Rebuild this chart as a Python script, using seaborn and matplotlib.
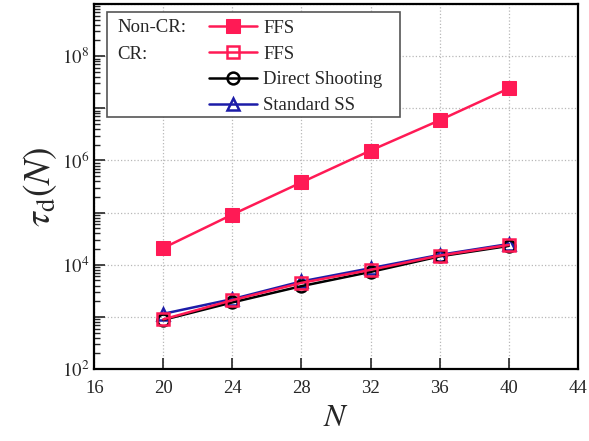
import math
import matplotlib
matplotlib.use('Agg')
import matplotlib.pyplot as plt
import matplotlib.ticker as mticker
from matplotlib.patches import Rectangle
import seaborn as sns

# Data
n_vals = [20, 24, 28, 32, 36, 40]
ffs_noncr = [2.1e4, 9.2e4, 3.8e5, 1.55e6, 5.9e6, 2.4e7]
ffs_cr = [9.0e2, 2.1e3, 4.5e3, 8.0e3, 1.5e4, 2.4e4]
direct_shooting = [8.8e2, 1.9e3, 3.9e3, 7.3e3, 1.45e4, 2.3e4]
standard_ss = [1.15e3, 2.2e3, 4.8e3, 8.6e3, 1.55e4, 2.5e4]

red = '#ff1a55'
blue = '#1c1ca8'

sns.set_style('white')
plt.rcParams['font.family'] = ['Liberation Serif', 'DejaVu Serif']
plt.rcParams['mathtext.fontset'] = 'stix'

fig = plt.figure(figsize=(5.89, 4.41), dpi=100)
ax = fig.add_axes([0.16, 0.163, 0.821, 0.828])

lw = 1.8
ms = 8.5
sns.lineplot(x=n_vals, y=standard_ss, ax=ax, color=blue, marker='^', markersize=ms,
             markerfacecolor='none', markeredgecolor=blue, markeredgewidth=1.8, linewidth=lw,
             label='Standard SS', zorder=3)
sns.lineplot(x=n_vals, y=direct_shooting, ax=ax, color='black', marker='o', markersize=ms,
             markerfacecolor='none', markeredgecolor='black', markeredgewidth=1.8, linewidth=lw,
             label='Direct Shooting', zorder=4)
sns.lineplot(x=n_vals, y=ffs_cr, ax=ax, color=red, marker='s', markersize=ms,
             markerfacecolor='none', markeredgecolor=red, markeredgewidth=1.8, linewidth=lw,
             label='FFS', zorder=5)
sns.lineplot(x=n_vals, y=ffs_noncr, ax=ax, color=red, marker='s', markersize=ms + 1,
             markerfacecolor=red, markeredgecolor=red, linewidth=lw,
             label='FFS ', zorder=5)

ax.set_yscale('log')
ax.set_xlim(16, 44)
ax.set_ylim(1e2, 1e9)
ax.xaxis.set_major_locator(mticker.MultipleLocator(4))
ax.yaxis.set_major_locator(mticker.LogLocator(base=10, numticks=20))
ax.yaxis.set_minor_locator(mticker.LogLocator(base=10, subs=range(2, 10), numticks=20))


def ylab(v, pos):
    e = int(round(math.log10(v)))
    return r'$10^{%d}$' % e if e % 2 == 0 else ''


ax.yaxis.set_major_formatter(mticker.FuncFormatter(ylab))
ax.yaxis.set_minor_formatter(mticker.NullFormatter())

ax.tick_params(axis='both', which='major', direction='in', length=8, width=1.2,
               labelsize=13.5, top=False, right=False, left=True, bottom=True)
ax.tick_params(axis='x', which='major', pad=8)
ax.tick_params(axis='y', which='minor', direction='in', length=4, width=1.0, left=True, right=False)
ax.grid(True, which='major', linestyle=':', color='#b8b8b8', linewidth=0.9)
for s in ax.spines.values():
    s.set_linewidth(1.6)
    s.set_color('black')

ax.set_xlabel(r'$N$', fontsize=23, labelpad=5)
ax.set_ylabel(r'$\tau_{\mathrm{d}}(N)$', fontsize=27, labelpad=2)

# legend: manual frame with group labels
handles, labels = ax.get_legend_handles_labels()
order = [3, 2, 1, 0]
leg = ax.legend([handles[i] for i in order], ['FFS', 'FFS', 'Direct Shooting', 'Standard SS'],
                loc='upper left', bbox_to_anchor=(0.225, 0.972), frameon=False,
                fontsize=13.5, handlelength=2.6, handletextpad=0.3, labelspacing=0.46,
                borderaxespad=0, borderpad=0.3)
ax.add_patch(Rectangle((0.027, 0.69), 0.605, 0.288, transform=ax.transAxes,
                       facecolor='white', edgecolor='#555555', linewidth=1.2, zorder=6))
leg.set_zorder(7)
ax.text(0.047, 0.935, 'Non-CR:', transform=ax.transAxes, fontsize=13.5, va='center', zorder=8)
ax.text(0.047, 0.862, 'CR:', transform=ax.transAxes, fontsize=13.5, va='center', zorder=8)

fig.savefig('out.png', dpi=100)
